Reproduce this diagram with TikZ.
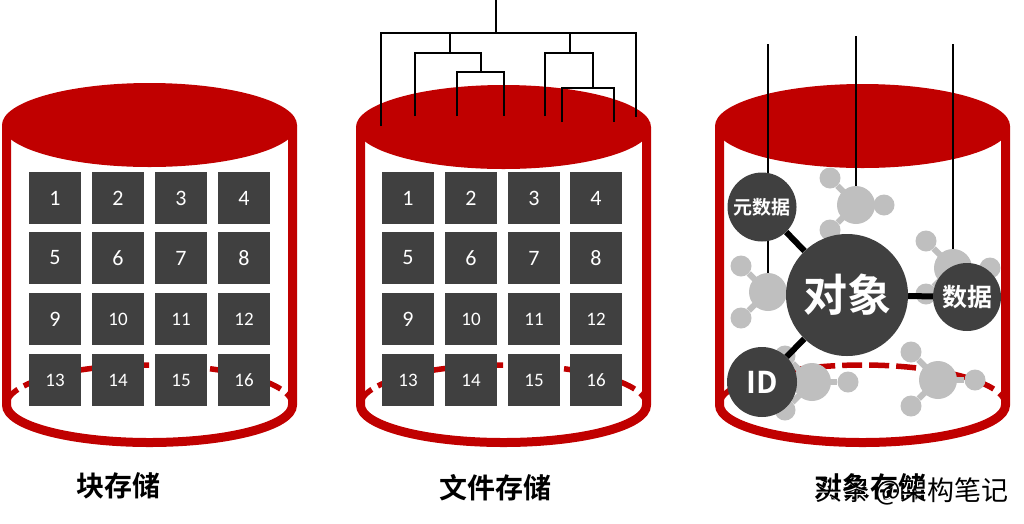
\documentclass[tikz,border=0pt]{standalone}
\usepackage{fontspec}
\setmainfont{Carlito}
\newfontfamily\cjkb{Noto Sans CJK SC Bold}
\newfontfamily\cjkr{Noto Sans CJK SC}
\definecolor{cylred}{HTML}{C00000}
\definecolor{darkbox}{HTML}{404040}
\definecolor{molgrey}{HTML}{BFBFBF}
\pgfdeclarelayer{front}
\pgfsetlayers{main,front}
\tikzset{
  x=1pt,y=-1pt,
  wall/.style={draw=cylred,line width=9pt},
  rim/.style={draw=cylred,line width=5.5pt,dash pattern=on 20pt off 7pt},
  lid/.style={fill=cylred,draw=none},
  numbox/.style={fill=darkbox,draw=none,minimum size=52pt,inner sep=0pt,text=white,font=\fontsize{22}{22}\selectfont},
  smallnum/.style={font=\fontsize{19}{19}\selectfont},
  wire/.style={draw=black,line width=2.3pt},
  link/.style={draw=black,line width=6pt},
  bigdot/.style={circle,fill=darkbox,draw=none,inner sep=0pt,text=white},
  atom/.style={circle,fill=molgrey,draw=none,inner sep=0pt,minimum size=38pt},
  subatom/.style={circle,fill=molgrey,draw=none,inner sep=0pt,minimum size=21pt},
  bond/.style={draw=molgrey,line width=6pt},
  caption/.style={text=black,inner sep=0pt,font=\cjkb\fontsize{28}{28}\selectfont},
}
\newcommand{\cylbody}[2]{%
  \draw[wall] (#1-143,#2) -- (#1-143,405) arc[start angle=180,end angle=0,x radius=143,y radius=37.5] -- (#1+143,#2);
  \draw[rim] (#1-143,405) arc[start angle=180,end angle=360,x radius=143,y radius=40];
  \fill[lid] (#1,#2) ellipse[x radius=147.5,y radius=42];
}
\newcommand{\boxgrid}[5]{%
  \foreach \lab/\cx/\cy/\st in {1/#2/198/numbox,2/#3/198/numbox,3/#4/198/numbox,4/#5/198/numbox,
    5/#2/258/numbox,6/#3/258/numbox,7/#4/258/numbox,8/#5/258/numbox,
    9/#2/319/numbox,10/#3/319/smallnum,11/#4/319/smallnum,12/#5/319/smallnum,
    13/#2/380/smallnum,14/#3/380/smallnum,15/#4/380/smallnum,16/#5/380/smallnum}
    \node[numbox,\st] (#1\lab) at (\cx,\cy) {\lab};
}
\newcommand{\molecule}[4]{%
  \coordinate (#1c) at (#2,#3);
  \foreach \i/\dx/\dy in {#4}{
    \node[subatom] (#1s\i) at (#2+\dx,#3+\dy) {};
    \draw[bond] (#1c) -- (#1s\i);
  }
  \node[atom] (#1) at (#1c) {};
}
\begin{document}
\begin{tikzpicture}
\useasboundingbox (0,0) rectangle (1024,523);

% block storage
\cylbody{149.5}{125}
\boxgrid{a}{55}{118}{181}{244}

% file storage
\cylbody{503.5}{127}
\coordinate (root) at (496,0);
\coordinate (tl) at (381,33); \coordinate (tr) at (636,33);
\coordinate (rootj) at (496,33);
\coordinate (l1) at (381,126); \coordinate (l8) at (636,117);
\coordinate (bl) at (450,33); \coordinate (blj) at (450,53);
\coordinate (blL) at (415,53); \coordinate (blR) at (481,53);
\coordinate (l2) at (415,116);
\coordinate (blRj) at (481,72);
\coordinate (cl) at (457,72); \coordinate (cr) at (504,72);
\coordinate (l3) at (457,116); \coordinate (l4) at (504,116);
\coordinate (br) at (570,33); \coordinate (brj) at (570,53);
\coordinate (brL) at (545,53); \coordinate (brR) at (593,53);
\coordinate (l5) at (545,116);
\coordinate (brRj) at (593,88);
\coordinate (dl) at (562,88); \coordinate (dr) at (614,88);
\coordinate (l6) at (562,122); \coordinate (l7) at (614,122);
\draw[wire] (root) -- (rootj);
\draw[wire] (l1) -- (tl) -- (tr) -- (l8);
\draw[wire] (bl) -- (blj);
\draw[wire] (l2) -- (blL) -- (blR) -- (blRj);
\draw[wire] (l3) -- (cl) -- (cr) -- (l4);
\draw[wire] (br) -- (brj);
\draw[wire] (l5) -- (brL) -- (brR) -- (brRj);
\draw[wire] (l6) -- (dl) -- (dr) -- (l7);
\boxgrid{b}{408}{471}{534}{596}

% object storage
\cylbody{862.5}{126}
\molecule{ma}{856}{205}{1/-26/-27,2/28/0,3/-26/25}
\molecule{mb}{768}{292}{1/-27/-26,2/-27/26}
\molecule{mc}{953}{268}{1/-27/-27,2/37/0,3/-27/26}
\molecule{md}{812}{382}{1/-27/-26,2/36/0,3/-27/28}
\molecule{me}{938}{380}{1/-27/-28,2/37/0,3/-27/26}

\begin{pgfonlayer}{front}
\node[bigdot,minimum size=69pt,font=\cjkb\fontsize{19}{19}\selectfont] (meta) at (762,207) {元数据};
\node[bigdot,minimum size=122pt,font=\cjkb\fontsize{44}{44}\selectfont] (obj) at (847,295) {对象};
\node[bigdot,minimum size=68pt,font=\cjkb\fontsize{25}{25}\selectfont] (data) at (967,297) {数据};
\node[bigdot,minimum size=70pt,font=\cjkb\fontsize{30}{30}\selectfont] (id) at (762,382) {ID};
\end{pgfonlayer}

\coordinate (w1) at (768,44); \coordinate (w2) at (856,36); \coordinate (w3) at (953,44);
\draw[wire] (w1) -- (mb.north);
\draw[wire] (w2) -- (ma.north);
\draw[wire] (w3) -- (mc.north);
\draw[link] (meta) -- (obj);
\draw[link] (data) -- (obj);
\draw[link] (id) -- (obj);

% captions
\node[caption] (cap1) at (118,486) {块存储};
\node[caption] (cap2) at (495,488) {文件存储};
\node[caption] (cap3) at (870,487) {对象存储};
\node[text=white,inner sep=0pt,font=\cjkr\fontsize{27}{27}\selectfont,anchor=west] (wmw) at (816,492) {头条 @架构笔记};
\node[text=black,inner sep=0pt,font=\cjkr\fontsize{27}{27}\selectfont,anchor=west] (wmk) at (815,491) {头条 @架构笔记};
\end{tikzpicture}
\end{document}
